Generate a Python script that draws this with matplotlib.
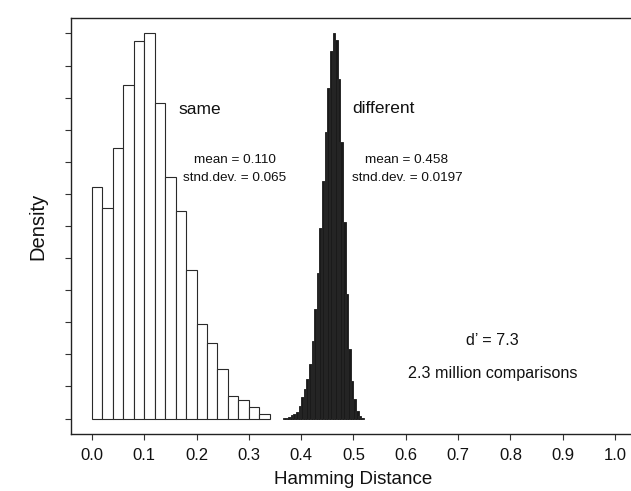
import matplotlib
matplotlib.use("Agg")
import matplotlib.pyplot as plt
import numpy as np

plt.rcParams['font.family'] = ['Liberation Sans', 'DejaVu Sans']

# "same" histogram: bin left edges (width 0.02) and heights (arbitrary density units)
same_edges = [0.00, 0.02, 0.04, 0.06, 0.08, 0.10, 0.12, 0.14, 0.16,
              0.18, 0.20, 0.22, 0.24, 0.26, 0.28, 0.30, 0.32]
same_heights = [7.22, 6.56, 8.42, 10.38, 11.75, 12.00, 9.84, 7.53, 6.47,
                4.62, 2.94, 2.35, 1.53, 0.70, 0.59, 0.35, 0.15]

# "different" histogram: bin left edges (width 0.005) and heights
diff_edges = [0.365, 0.370, 0.375, 0.380, 0.385, 0.390, 0.395, 0.400,
              0.405, 0.410, 0.415, 0.420, 0.425, 0.430, 0.435, 0.440,
              0.445, 0.450, 0.455, 0.460, 0.465, 0.470, 0.475, 0.480,
              0.485, 0.490, 0.495, 0.500, 0.505, 0.510, 0.515]
diff_heights = [0.02, 0.03, 0.06, 0.10, 0.15, 0.22, 0.40, 0.68,
                0.93, 1.24, 1.70, 2.41, 3.41, 4.55, 5.94, 7.40,
                8.92, 10.31, 11.46, 12.00, 11.80, 10.59, 8.61, 6.13,
                3.87, 2.17, 1.18, 0.62, 0.25, 0.09, 0.03]

xticks = [0.0, 0.1, 0.2, 0.3, 0.4, 0.5, 0.6, 0.7, 0.8, 0.9, 1.0]
xticklabels = ['0.0', '0.1', '0.2', '0.3', '0.4', '0.5', '0.6', '0.7', '0.8', '0.9', '1.0']

fig = plt.figure(figsize=(6.31, 4.91), dpi=100)
ax = fig.add_axes([71/631, 1-434/491, (636-71)/631, (434-18)/491])

ax.bar(same_edges, same_heights, width=0.02, align='edge',
       facecolor='white', edgecolor='#2a2a2a', linewidth=0.8)
ax.bar(diff_edges, diff_heights, width=0.005, align='edge',
       facecolor='#1a1a1a', edgecolor='#1a1a1a', linewidth=0.6)
# thin separators between the dark bars
ax.vlines(diff_edges[1:], 0, np.minimum(diff_heights[:-1], diff_heights[1:]),
          color='#444444', linewidth=0.35)

ymax = max(max(same_heights), max(diff_heights))
ax.set_xlim(-0.04, 1.04)
ax.set_ylim(-0.04*ymax, 1.04*ymax)

ax.set_xticks(xticks)
ax.set_xticklabels(xticklabels, fontsize=12, color='#111111')
ax.set_yticks(np.arange(0, 13, 1))
ax.set_yticklabels([])
ax.tick_params(axis='both', direction='out', length=4, width=0.8, color='#333333')
ax.tick_params(axis='x', pad=6)

for s in ax.spines.values():
    s.set_color('#222222')
    s.set_linewidth(1.0)

ax.set_xlabel('Hamming Distance', fontsize=13.5, color='#111111')
ax.xaxis.set_label_coords(0.5, -0.11)
ax.xaxis.label.set_va('center')
ax.set_ylabel('Density', fontsize=14.5, color='#111111')
ax.yaxis.set_label_coords(-0.058, 0.5)
ax.yaxis.label.set_va('center')

ax.text(0.207, 9.63, 'same', fontsize=12.5, ha='center', va='center', color='#111111')
ax.text(0.558, 9.65, 'different', fontsize=12.5, ha='center', va='center', color='#111111')
ax.text(0.274, 8.07, 'mean = 0.110', fontsize=9.7, ha='center', va='center', color='#111111')
ax.text(0.273, 7.48, 'stnd.dev. = 0.065', fontsize=9.7, ha='center', va='center', color='#111111')
ax.text(0.602, 8.07, 'mean = 0.458', fontsize=9.7, ha='center', va='center', color='#111111')
ax.text(0.602, 7.48, 'stnd.dev. = 0.0197', fontsize=9.7, ha='center', va='center', color='#111111')
ax.text(0.766, 2.42, 'd\u2019 = 7.3', fontsize=11.6, ha='center', va='center', color='#111111')
ax.text(0.766, 1.39, '2.3 million comparisons', fontsize=11.6, ha='center', va='center', color='#111111')

fig.savefig('out.png', dpi=100)
